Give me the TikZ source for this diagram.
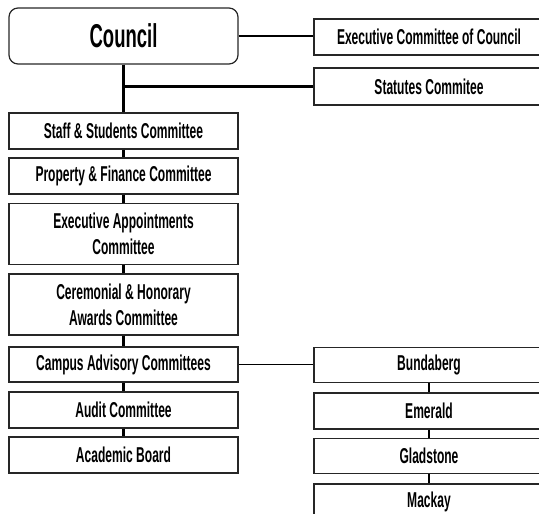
\documentclass[tikz,border=0pt]{standalone}
\usepackage{fontspec}
\setmainfont{Liberation Sans}[FakeStretch=0.56]
\newfontfamily\councilfont{Liberation Sans}[FakeStretch=0.56]
\usepackage{xcolor}
\usepackage{tikz}

\tikzset{
	box/.style={draw=black!85, line width=1.2pt, inner sep=0pt, minimum width=229pt, minimum height=36pt, align=center, font=\bfseries\fontsize{21.5}{26}\selectfont},
	tallbox/.style={box, minimum height=61pt},
	thick link/.style={line width=2.4pt},
	thin link/.style={line width=1.1pt}
}

\begin{document}
\begin{tikzpicture}[x=1pt,y=-1pt]

\useasboundingbox (0,0) rectangle (539,514);

\node[box, rounded corners=9pt, minimum height=56pt, font=\councilfont\bfseries\fontsize{33}{36}\selectfont] (council) at (123.5,36) {Council};

\node[box, minimum width=230pt] (exec) at (429,37) {Executive Committee of Council};
\node[box, minimum width=230pt, minimum height=37pt] (statutes) at (429,86.5) {Statutes Commitee};

\node[box] (staff) at (123.5,131) {Staff \& Students Committee};
\node[box] (property) at (123.5,176) {Property \& Finance Committee};
\node[tallbox] (appoint) at (123.5,234) {Executive Appointments\\Committee};
\node[tallbox] (ceremonial) at (123.5,304.5) {Ceremonial \& Honorary\\Awards Committee};
\node[box, minimum height=35pt] (campus) at (123.5,364.5) {Campus Advisory Committees};
\node[box] (audit) at (123.5,410) {Audit Committee};
\node[box] (academic) at (123.5,455) {Academic Board};

\node[box, minimum width=230pt, minimum height=35pt] (bundaberg) at (429,365) {Bundaberg};
\node[box, minimum width=230pt] (emerald) at (429,411) {Emerald};
\node[box, minimum width=230pt, minimum height=35pt] (gladstone) at (429,456) {Gladstone};
\node[box, minimum width=230pt] (mackay) at (429,502) {Mackay};

\coordinate (split) at (council.south |- statutes.west);

\draw[thick link] (council.east) -- (council.east -| exec.west);
\draw[thick link] (council) -- (staff);
\draw[thick link] (split) -- (statutes.west);

\foreach \a/\b in {staff/property,property/appoint,appoint/ceremonial,ceremonial/campus,campus/audit,audit/academic}
	\draw[thick link] (\a) -- (\b);

\draw[thin link] (campus.east) -- (campus.east -| bundaberg.west);

\foreach \a/\b in {bundaberg/emerald,emerald/gladstone,gladstone/mackay}
	\draw[thin link] (\a) -- (\b);

\end{tikzpicture}
\end{document}
